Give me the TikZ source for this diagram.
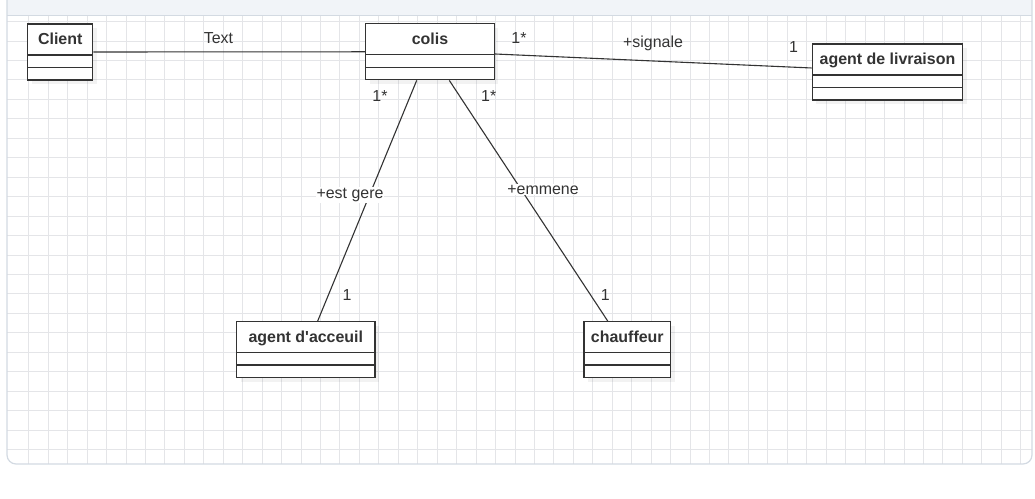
\documentclass[tikz,border=0pt]{standalone}
\usepackage{fontspec}
\setmainfont{Liberation Sans}
\usetikzlibrary{shadows}
\definecolor{gridline}{HTML}{E4E5E8}
\definecolor{bandfill}{HTML}{F1F4F8}
\definecolor{framecol}{HTML}{D3DAE2}
\definecolor{ink}{HTML}{333333}
\begin{document}
\begin{tikzpicture}[x=1bp,y=1bp,
	umlclass/.style={draw=ink, line width=1.2bp, fill=white, text=ink,
		font=\fontsize{16}{19}\selectfont\bfseries,
		inner ysep=0bp, text height=21bp, text depth=35bp, minimum height=56bp,
		drop shadow={shadow xshift=4bp, shadow yshift=-4bp, opacity=0.05, fill=black},
		path picture={\draw[ink, line width=1.2bp]
			([yshift=25bp]path picture bounding box.south west) -- ([yshift=25bp]path picture bounding box.south east)
			([yshift=12.5bp]path picture bounding box.south west) -- ([yshift=12.5bp]path picture bounding box.south east);}},
	assoc/.style={draw=ink, line width=1.1bp},
	lbl/.style={text=ink, font=\fontsize{16}{19}\selectfont, anchor=base, inner sep=1bp}]

		\useasboundingbox (0,0) rectangle (1035,499);
		\clip (0,0) rectangle (1035,499);

		% frame and grid
		\fill[bandfill] (7,483) rectangle (1032,499);
		\begin{scope}
			\clip (7,483) -- (7,44) arc[start angle=180,end angle=270,radius=9] -- (1023,35)
				arc[start angle=270,end angle=360,radius=9] -- (1032,483) -- cycle;
			\fill[white] (0,0) rectangle (1035,499);
			\foreach \gx in {1,...,52}{
				\pgfmathsetmacro\gxpos{round(8.85+19.45*\gx)+0.5}
				\draw[gridline, line width=1.3bp] (\gxpos,0) -- (\gxpos,499);}
			\foreach \gy in {1,...,24}{
				\pgfmathsetmacro\gypos{round(496.3-19.45*\gy)+0.5}
				\draw[gridline, line width=1.3bp] (0,\gypos) -- (1035,\gypos);}
		\end{scope}
		\draw[framecol, line width=1.2bp] (7,499) -- (7,44) arc[start angle=180,end angle=270,radius=9]
			-- (1023,35) arc[start angle=270,end angle=360,radius=9] -- (1032,499);
		\draw[framecol, line width=1bp] (7,483) -- (1032,483);

		% classes
		\node[umlclass, minimum width=65bp] (client) at (60.2,447) {Client};
		\node[umlclass, minimum width=128.6bp] (colis) at (430,447.2) {colis};
		\node[umlclass, minimum width=150.4bp] (livraison) at (887.5,427) {agent de livraison};
		\node[umlclass, minimum width=138.3bp] (accueil) at (305.8,149.4) {agent d\textquotesingle acceuil};
		\node[umlclass, minimum width=86.7bp] (chauffeur) at (627.3,149.4) {chauffeur};

		% associations
		\draw[assoc] (client.east) -- (colis.west);
		\draw[assoc] ([yshift=-2.2bp]colis.east) -- ([yshift=4bp]livraison.west);
		\draw[assoc] ([xshift=-13.3bp]colis.south) -- ([xshift=11.9bp]accueil.north);
		\draw[assoc] ([xshift=19.3bp]colis.south) -- ([xshift=-19.6bp]chauffeur.north);

		\node[lbl] (t1) at (218.5,455.7) {Text};
		\node[lbl] (t2) at (653,451) {+signale};
		\node[lbl, fill=white] (t3) at (350,300.7) {+est gere};
		\node[lbl, fill=white] (t4) at (543,304.7) {+emmene};

		\node[lbl] (m1) at (519,455) {1*};
		\node[lbl] (m2) at (793.5,446) {1};
		\node[lbl] (m3) at (380,397) {1*};
		\node[lbl] (m4) at (488.7,397) {1*};
		\node[lbl] (m5) at (347,198.5) {1};
		\node[lbl] (m6) at (605.3,198.5) {1};
	\end{tikzpicture}
\end{document}
